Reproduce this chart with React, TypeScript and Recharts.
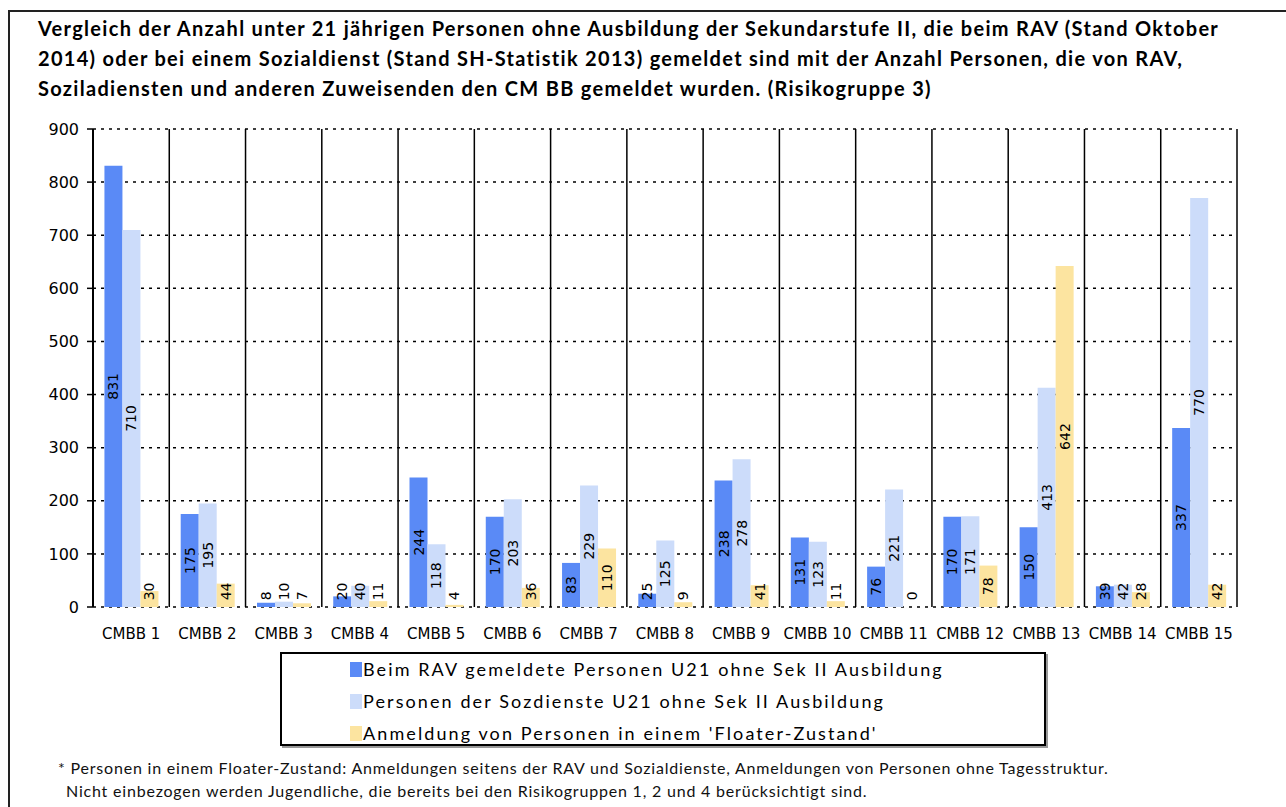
import React from "react";
import {
  BarChart,
  Bar,
  XAxis,
  YAxis,
  CartesianGrid,
  LabelList,
} from "recharts";

const categories = [
  "CMBB 1", "CMBB 2", "CMBB 3", "CMBB 4", "CMBB 5", "CMBB 6", "CMBB 7", "CMBB 8",
  "CMBB 9", "CMBB 10", "CMBB 11", "CMBB 12", "CMBB 13", "CMBB 14", "CMBB 15",
];
const ravValues = [831, 175, 8, 20, 244, 170, 83, 25, 238, 131, 76, 170, 150, 39, 337];
const sozValues = [710, 195, 10, 40, 118, 203, 229, 125, 278, 123, 221, 171, 413, 42, 770];
const floaterValues = [30, 44, 7, 11, 4, 36, 110, 9, 41, 11, 0, 78, 642, 28, 42];
const yTicks = [0, 100, 200, 300, 400, 500, 600, 700, 800, 900];
const boundaryTicks = Array.from({ length: categories.length + 1 }, (_, i) => i);

const seriesNames = [
  "Beim RAV gemeldete Personen U21 ohne Sek II Ausbildung",
  "Personen der Sozdienste U21 ohne Sek II Ausbildung",
  "Anmeldung von Personen in einem 'Floater-Zustand'",
];
const colors = ["#5a8af6", "#ccdcfa", "#fce4a0"];

const titleLines = [
  "Vergleich der Anzahl unter 21 jährigen Personen ohne Ausbildung der Sekundarstufe II, die beim RAV (Stand Oktober",
  "2014) oder bei einem Sozialdienst (Stand SH-Statistik 2013) gemeldet sind mit der Anzahl Personen, die von RAV,",
  "Soziladiensten und anderen Zuweisenden den CM BB gemeldet wurden. (Risikogruppe 3)",
];
const footLines = [
  "* Personen in einem Floater-Zustand: Anmeldungen seitens der RAV und Sozialdienste, Anmeldungen von Personen ohne Tagesstruktur.",
  "Nicht einbezogen werden Jugendliche, die bereits bei den Risikogruppen 1, 2 und 4 berücksichtigt sind.",
];

const data = categories.map((name, i) => ({
  name,
  rav: ravValues[i],
  soz: sozValues[i],
  floater: floaterValues[i],
}));

const CHART_FONT = "'DejaVu Sans', Verdana, sans-serif";

// rotated value label, centered in the bar but kept above the axis for short bars
const VerticalLabel = (props: any) => {
  const { x, y, width, height, value } = props;
  if (x == null || y == null) return null;
  const len = String(value).length * 8.6;
  const cx = Number(x) + Number(width) / 2;
  const bottom = Number(y) + Number(height || 0);
  const center = Number(y) + Number(height || 0) / 2;
  const cy = Math.min(center, bottom - 7 - len / 2);
  return (
    <text
      x={cx}
      y={cy}
      transform={`rotate(-90 ${cx} ${cy})`}
      textAnchor="middle"
      dominantBaseline="central"
      fontSize={14}
      fontFamily={CHART_FONT}
      fill="#000"
    >
      {value}
    </text>
  );
};

export default function App() {
  return (
    <div
      style={{
        position: "absolute",
        left: 0,
        top: 0,
        width: 1286,
        height: 807,
        background: "#fff",
        overflow: "hidden",
      }}
    >
      {/* frame */}
      <div
        style={{
          position: "absolute",
          left: 8,
          top: 10,
          width: 1290,
          height: 810,
          borderTop: "2px solid #222",
          borderLeft: "2px solid #222",
        }}
      />

      {/* Title */}
      <div
        style={{
          position: "absolute",
          left: 38,
          top: 13,
          fontFamily: "Lato, sans-serif",
          fontWeight: 700,
          fontSize: 20,
          letterSpacing: 1.3,
          lineHeight: "30px",
          color: "#000",
          whiteSpace: "nowrap",
        }}
      >
        {titleLines.map((l) => (
          <div key={l}>{l}</div>
        ))}
      </div>

      {/* Chart */}
      <div style={{ position: "absolute", left: 0, top: 110 }}>
        <BarChart
          width={1286}
          height={540}
          data={data}
          margin={{ top: 19, right: 49, left: 0, bottom: 0 }}
          barCategoryGap="15%"
          barGap={0}
        >
          <CartesianGrid
            xAxisId="cat"
            vertical={false}
            stroke="#000"
            strokeDasharray="3 5"
            strokeWidth={1.5}
          />
          <CartesianGrid
            xAxisId="cat"
            horizontal={false}
            stroke="#000"
            strokeWidth={1.5}
            verticalCoordinatesGenerator={({ offset }: any) =>
              boundaryTicks.map((i) => offset.left + (i * offset.width) / categories.length)
            }
          />
          <XAxis
            xAxisId="sep"
            type="number"
            domain={[0, categories.length]}
            ticks={boundaryTicks}
            tick={false}
            tickSize={7}
            height={0}
            axisLine={{ stroke: "#000", strokeWidth: 2 }}
            tickLine={{ stroke: "#000", strokeWidth: 2 }}
          />
          <XAxis
            xAxisId="cat"
            dataKey="name"
            height={43}
            axisLine={false}
            tickLine={false}
            tickSize={6}
            tickMargin={15}
            interval={0}
            tick={{ fill: "#000", fontSize: 15, fontFamily: CHART_FONT }}
          />
          <YAxis
            width={93}
            domain={[0, 900]}
            ticks={yTicks}
            interval={0}
            tickSize={6}
            tickMargin={8}
            axisLine={{ stroke: "#000", strokeWidth: 2 }}
            tickLine={{ stroke: "#000", strokeWidth: 1.5 }}
            tick={{ fill: "#000", fontSize: 16, fontFamily: CHART_FONT }}
          />
          <Bar xAxisId="cat" dataKey="rav" fill={colors[0]} isAnimationActive={false}>
            <LabelList dataKey="rav" content={VerticalLabel} />
          </Bar>
          <Bar xAxisId="cat" dataKey="soz" fill={colors[1]} isAnimationActive={false}>
            <LabelList dataKey="soz" content={VerticalLabel} />
          </Bar>
          <Bar
            xAxisId="cat"
            dataKey="floater"
            fill={colors[2]}
            minPointSize={0.01}
            isAnimationActive={false}
          >
            <LabelList dataKey="floater" content={VerticalLabel} />
          </Bar>
        </BarChart>
      </div>

      {/* Legend */}
      <div
        style={{
          position: "absolute",
          left: 280,
          top: 652,
          width: 762,
          height: 90,
          border: "2px solid #000",
          boxShadow: "2px 2px 0 #999",
          background: "#fff",
          fontFamily: "Lato, sans-serif",
          fontSize: 18,
          letterSpacing: 2.1,
          color: "#000",
        }}
      >
        {seriesNames.map((n, i) => (
          <div
            key={n}
            style={{
              position: "absolute",
              left: 68,
              top: 3 + i * 32,
              height: 24,
              display: "flex",
              alignItems: "center",
              whiteSpace: "nowrap",
            }}
          >
            <span
              style={{
                display: "inline-block",
                width: 12,
                height: 15,
                background: colors[i],
                marginRight: 1,
              }}
            />
            {n}
          </div>
        ))}
      </div>

      {/* Footnote */}
      <div
        style={{
          position: "absolute",
          left: 58,
          top: 756,
          fontFamily: "Lato, sans-serif",
          fontSize: 16,
          letterSpacing: 0.8,
          lineHeight: "23px",
          color: "#111",
          whiteSpace: "nowrap",
        }}
      >
        <div>{footLines[0]}</div>
        <div style={{ paddingLeft: 8 }}>{footLines[1]}</div>
      </div>
    </div>
  );
}
